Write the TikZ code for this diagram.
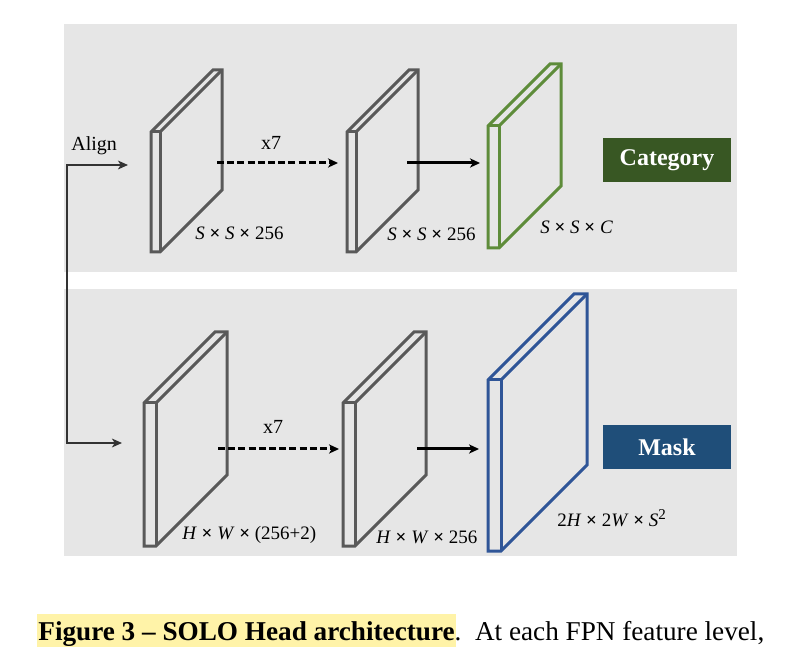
\documentclass[tikz,border=0pt]{standalone}
\usepackage{fontspec}
\setmainfont{Liberation Serif}
\usetikzlibrary{arrows.meta}

\definecolor{panel}{RGB}{230,230,230}
\definecolor{slabgray}{RGB}{89,89,89}
\definecolor{catline}{RGB}{94,140,58}
\definecolor{catfill}{RGB}{56,87,35}
\definecolor{maskline}{RGB}{47,85,151}
\definecolor{maskfill}{RGB}{31,78,121}
\definecolor{marker}{RGB}{255,243,168}

\tikzset{
  slab/.style={line width=1.5pt, line join=miter},
  flow/.style={line width=1.5pt, -{Stealth[length=5pt,width=4.6pt,inset=1.4pt]}},
  repeatflow/.style={flow, dash pattern=on 3.5pt off 1.6pt},
  feed/.style={line width=1.1pt, draw=black!80, {Stealth[length=5pt,width=4.4pt,inset=1.4pt]}-{Stealth[length=5pt,width=4.4pt,inset=1.4pt]}},
  lbl/.style={inner sep=0pt, font=\fontsize{10}{12}\selectfont},
  dims/.style={inner sep=0pt, anchor=west, font=\fontsize{9.5}{11}\selectfont},
  tag/.style={inner sep=0pt, text=white, font=\fontsize{12}{14}\selectfont\bfseries, minimum width=64pt, minimum height=22pt},
}

\newcommand{\tms}{\textbf{×}}
\newcommand{\sqr}{\raisebox{0.85ex}{\fontsize{7.5}{8}\selectfont 2}}

% feature map: front-left x, top y, front width, height, depth, colour
\newcommand{\fmap}[6]{
  \draw[slab, draw=#6] (#1,{#2+#4}) -- (#1,#2) -- ({#1+#5},{#2-#5}) -- ({#1+#3+#5},{#2-#5})
     -- ({#1+#3+#5},{#2+#4-#5}) -- ({#1+#3},{#2+#4}) -- cycle;
  \draw[slab, draw=#6] (#1,#2) -- ({#1+#3},#2) -- ({#1+#3},{#2+#4});
  \draw[slab, draw=#6] ({#1+#3},#2) -- ({#1+#3+#5},{#2-#5});
}

\begin{document}
\begin{tikzpicture}[x=0.5pt,y=-0.5pt]
      \useasboundingbox (0,0) rectangle (804,652);

      % panels
      \fill[panel] (64,24) rectangle (737,272);
      \fill[panel] (64,289) rectangle (737,556);

      % category branch
      \fmap{151}{132}{9}{120}{62}{slabgray}
      \fmap{347}{132}{9}{120}{62}{slabgray}
      \fmap{488}{126}{11}{122}{62}{catline}

      % mask branch
      \fmap{144}{403}{12}{143}{71}{slabgray}
      \fmap{343}{403}{12}{143}{71}{slabgray}
      \fmap{488}{380}{13}{171}{86}{maskline}

      \coordinate (c1-out) at (217,163);
      \coordinate (c2-in) at (338,163);
      \coordinate (c2-out) at (407,163);
      \coordinate (c3-in) at (480,163);
      \coordinate (m1-out) at (218,449);
      \coordinate (m2-in) at (339,449);
      \coordinate (m2-out) at (417,449);
      \coordinate (m3-in) at (479,449);
      \coordinate (c1-feed) at (128,165);
      \coordinate (m1-feed) at (122,443);
      \coordinate (fork) at (67,443);

      \draw[feed] (c1-feed) -| (fork) -- (m1-feed);
      \node[lbl, anchor=west] (align) at (71,146) {Align};

      \draw[repeatflow] (c1-out) -- (c2-in);
      \draw[flow] (c2-out) -- (c3-in);
      \draw[repeatflow] (m1-out) -- (m2-in);
      \draw[flow] (m2-out) -- (m3-in);

      \node[lbl] (rep1) at (271,143) {x7};
      \node[lbl] (rep2) at (273,427) {x7};

      \node[dims] (c1-dim) at (195,233) {\textit{S} \tms{} \textit{S} \tms{} 256};
      \node[dims] (c2-dim) at (387,234) {\textit{S} \tms{} \textit{S} \tms{} 256};
      \node[dims] (c3-dim) at (540,227) {\textit{S} \tms{} \textit{S} \tms{} \textit{C}};
      \node[dims] (m1-dim) at (182,535) {\textit{H} \tms{} \textit{W} \tms{} (256+2)};
      \node[dims] (m2-dim) at (376,537) {\textit{H} \tms{} \textit{W} \tms{} 256};
      \node[dims] (m3-dim) at (557,518) {2\textit{H} \tms{} 2\textit{W} \tms{} \textit{S}\sqr};

      \node[tag, fill=catfill] (category) at (667,160) {Category};
      \node[tag, fill=maskfill] (mask) at (667,447) {Mask};

      % caption
      \fill[marker] (37,614) rectangle (456,647);
      \node[anchor=base west, inner sep=0pt, font=\fontsize{13.6}{16}\selectfont] (caption) at (38,640) {\textbf{Figure 3 – SOLO Head architecture}.\ \ At each FPN feature level,};
\end{tikzpicture}
\end{document}
